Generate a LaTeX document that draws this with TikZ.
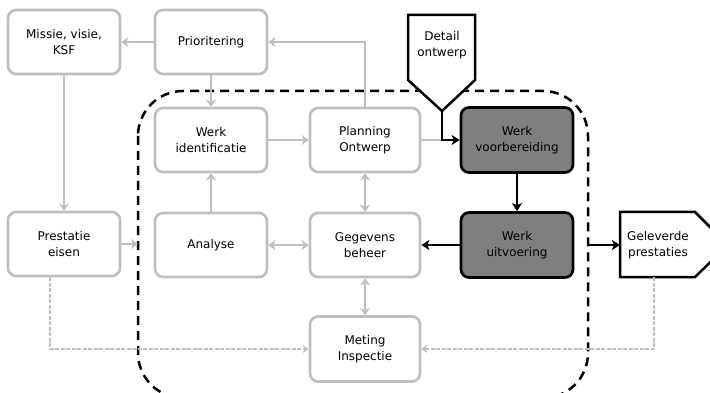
\documentclass[tikz,border=0pt]{standalone}
\usepackage{fontspec}
\setmainfont{DejaVu Sans}
\usetikzlibrary{arrows.meta}
\definecolor{lg}{HTML}{BFBFBF}
\definecolor{dg}{HTML}{7F7F7F}
\begin{document}
\begin{tikzpicture}[x=1pt,y=-1pt,
  font=\fontsize{12}{16}\selectfont,
  gbox/.style={draw=lg, line width=2.7pt, rounded corners=8pt, fill=white,
    minimum width=112pt, minimum height=64pt, align=center, inner sep=2pt},
  bbox/.style={draw=black, line width=2.7pt, rounded corners=8pt, fill=dg,
    minimum width=112pt, minimum height=65pt, align=center, inner sep=2pt},
  garrow/.style={draw=lg, line width=2.5pt, -{Stealth[length=7pt,width=10pt,inset=2pt]}},
  gdouble/.style={draw=lg, line width=2.5pt, {Stealth[length=7pt,width=10pt,inset=2pt]}-{Stealth[length=7pt,width=10pt,inset=2pt]}},
  gline/.style={draw=lg, line width=2.5pt},
  barrow/.style={draw=black, line width=2.5pt, -{Stealth[length=8pt,width=10pt,inset=2pt]}},
  gdash/.style={draw=lg, line width=1.5pt, dash pattern=on 4pt off 1.5pt, -{Stealth[length=6pt,width=8pt,inset=2pt]}},
  bdash/.style={draw=black, line width=2.5pt, dash pattern=on 9pt off 6pt},
  txt/.style={align=center, inner sep=0pt}
]
\useasboundingbox (0,0) rectangle (710,393);
\clip (0,0) rectangle (710,393);

% dashed boundary
\draw[bdash, rounded corners=45pt] (138,91) rectangle (588,398);

% nodes
\node[gbox] (mis) at (64,42) {Missie, visie,\\KSF};
\node[gbox] (pri) at (211,42) {Prioritering};
\node[gbox] (wid) at (211,140) {Werk\\identificatie};
\node[gbox, minimum width=110pt] (plo) at (365,140) {Planning\\Ontwerp};
\node[bbox] (wvb) at (517,140) {Werk\\voorbereiding};
\node[gbox] (pre) at (64,244) {Prestatie\\eisen};
\node[gbox] (ana) at (211,245) {Analyse};
\node[gbox, minimum width=110pt] (geg) at (365,245) {Gegevens\\beheer};
\node[bbox] (wuv) at (517,245) {Werk\\uitvoering};
\node[gbox, minimum width=110pt, minimum height=65pt] (met) at (365,349) {Meting\\Inspectie};

% Detail ontwerp pentagon
\draw[line width=2.5pt, line join=miter, fill=white] (408,15) -- (475,15) -- (475,80) -- (442,111) -- (408,80) -- cycle;
\coordinate (detpt) at (442,111);
\node[txt] (det) at (442,45) {Detail\\ontwerp};

% Geleverde prestaties shape
\draw[line width=2.5pt, line join=miter, fill=white] (620,212) -- (695,212) -- (728,245) -- (695,277) -- (620,277) -- cycle;
\node[txt] (gel) at (658,245) {Geleverde\\prestaties};
\coordinate (gelw) at (620,245);
\coordinate (gels) at (654,277);

% boundary points
\coordinate (bl) at (138,244);
\coordinate (br) at (588,245);
\coordinate (j) at (detpt |- plo.east);

% gray connectors
\draw[garrow] (pri.west) -- (mis.east);
\draw[garrow] (plo.north) |- (pri.east);
\draw[garrow] (pri.south) -- (wid.north);
\draw[garrow] (wid.east) -- (plo.west);
\draw[gline] (plo.east) -- (j);
\draw[gdouble] (plo.south) -- (geg.north);
\draw[gdouble] (ana.east) -- (geg.west);
\draw[garrow] (ana.north) -- (wid.south);
\draw[garrow] (mis.south) -- (pre.north);
\draw[garrow] (pre.east) -- (bl);
\draw[gdouble] (geg.south) -- (met.north);
\draw[gdash] ([xshift=-14pt]pre.south) |- (met.west);
\draw[gdash] (gels) |- (met.east);

% black connectors
\draw[barrow] (detpt) -- (j) -- (wvb.west);
\draw[barrow] (wvb.south) -- (wuv.north);
\draw[barrow] (wuv.west) -- (geg.east);
\draw[barrow] (br) -- (gelw);
\end{tikzpicture}
\end{document}
